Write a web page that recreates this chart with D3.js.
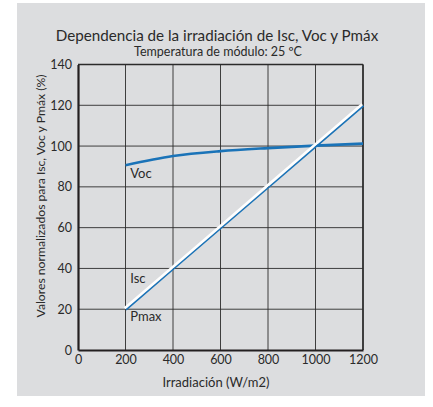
<!DOCTYPE html>
<html>
<head>
<meta charset="utf-8">
<script src="https://cdn.jsdelivr.net/npm/d3@7"></script>
<style>
  body { margin: 0; background: #fff; }
  text { font-family: Lato, "Open Sans", sans-serif; fill: #2a2a2a; }
</style>
</head>
<body>
<svg width="433" height="407"></svg>
<script>
// data
var irradiance = [200, 400, 600, 800, 1000, 1200];
var vocValues = [90.6, 95.1, 97.5, 99.0, 100.2, 101.2];
var iscValues = [20, 40, 60, 80, 100, 120];
var pmaxValues = [20, 40, 60, 80, 100, 120];
var xTicks = [0, 200, 400, 600, 800, 1000, 1200];
var yTicks = [0, 20, 40, 60, 80, 100, 120, 140];

var svg = d3.select("svg");

// gray panel
svg.append("rect")
    .attr("x", 17).attr("y", 3)
    .attr("width", 408).attr("height", 393)
    .attr("fill", "#dcdddf");

var x = d3.scaleLinear().domain([0, 1200]).range([78, 363]);
var y = d3.scaleLinear().domain([0, 140]).range([350, 64.5]);

// grid
svg.append("g")
    .selectAll("line.v")
    .data(xTicks.slice(1))
    .enter().append("line")
      .attr("x1", function(d) { return x(d); })
      .attr("x2", function(d) { return x(d); })
      .attr("y1", y(0)).attr("y2", y(140))
      .attr("stroke", "#2b2b2b").attr("stroke-width", 0.9);

svg.append("g")
    .selectAll("line.h")
    .data(yTicks.slice(1))
    .enter().append("line")
      .attr("x1", x(0)).attr("x2", x(1200))
      .attr("y1", function(d) { return y(d); })
      .attr("y2", function(d) { return y(d); })
      .attr("stroke", "#2b2b2b").attr("stroke-width", 0.9);

// right + top border
svg.append("line")
    .attr("x1", x(1200)).attr("x2", x(1200))
    .attr("y1", y(0)).attr("y2", y(140))
    .attr("stroke", "#2b2b2b").attr("stroke-width", 1.6);
svg.append("line")
    .attr("x1", x(0)).attr("x2", x(1200))
    .attr("y1", y(140)).attr("y2", y(140))
    .attr("stroke", "#2b2b2b").attr("stroke-width", 1.4);

// axes
var xAxis = svg.append("g")
    .attr("transform", "translate(0," + y(0) + ")")
    .call(d3.axisBottom(x).tickValues(xTicks).tickFormat(d3.format("d")).tickSize(0).tickPadding(5));
var yAxis = svg.append("g")
    .attr("transform", "translate(" + x(0) + ",0)")
    .call(d3.axisLeft(y).tickValues(yTicks).tickFormat(d3.format("d")).tickSize(0).tickPadding(5));

[xAxis, yAxis].forEach(function(a) {
  a.select(".domain").attr("stroke", "#231f20").attr("stroke-width", 2.2);
  a.selectAll("text").attr("font-size", 12.5).attr("fill", "#2a2a2a")
      .attr("font-family", "Lato, 'Open Sans', sans-serif");
});
yAxis.selectAll(".tick text").attr("dy", "0.32em").attr("dx", "-1");

// curves
var line = d3.line()
    .x(function(d) { return x(d[0]); })
    .y(function(d) { return y(d[1]); });
var curvy = d3.line()
    .curve(d3.curveMonotoneX)
    .x(function(d) { return x(d[0]); })
    .y(function(d) { return y(d[1]); });

svg.append("path")
    .datum(d3.zip(irradiance, vocValues))
    .attr("d", curvy)
    .attr("fill", "none")
    .attr("stroke", "#1a73b8")
    .attr("stroke-width", 2.6);

svg.append("path")
    .datum(d3.zip(irradiance, iscValues))
    .attr("d", line)
    .attr("transform", "translate(-0.8,-1)")
    .attr("fill", "none")
    .attr("stroke", "#ffffff")
    .attr("stroke-width", 2.6);

svg.append("path")
    .datum(d3.zip(irradiance, pmaxValues))
    .attr("d", line)
    .attr("transform", "translate(0.6,0.6)")
    .attr("fill", "none")
    .attr("stroke", "#1a73b8")
    .attr("stroke-width", 1.5);

// series labels
svg.append("text").attr("x", x(220)).attr("y", y(84.5)).attr("font-size", 13).text("Voc");
svg.append("text").attr("x", x(220)).attr("y", y(32.8)).attr("font-size", 13).text("Isc");
svg.append("text").attr("x", x(220)).attr("y", y(14)).attr("font-size", 13).text("Pmax");

// titles
svg.append("text")
    .attr("x", 217).attr("y", 41)
    .attr("text-anchor", "middle")
    .attr("font-size", 15.2)
    .text("Dependencia de la irradiación de Isc, Voc y Pmáx");
svg.append("text")
    .attr("x", 218).attr("y", 56)
    .attr("text-anchor", "middle")
    .attr("font-size", 12.5)
    .text("Temperatura de módulo: 25 ºC");

svg.append("text")
    .attr("x", 216).attr("y", 387)
    .attr("text-anchor", "middle")
    .attr("font-size", 13)
    .text("Irradiación (W/m2)");

svg.append("text")
    .attr("transform", "translate(44.5,196) rotate(-90)")
    .attr("text-anchor", "middle")
    .attr("font-size", 12.2)
    .text("Valores normalizados para Isc, Voc y Pmáx (%)");
</script>
</body>
</html>
